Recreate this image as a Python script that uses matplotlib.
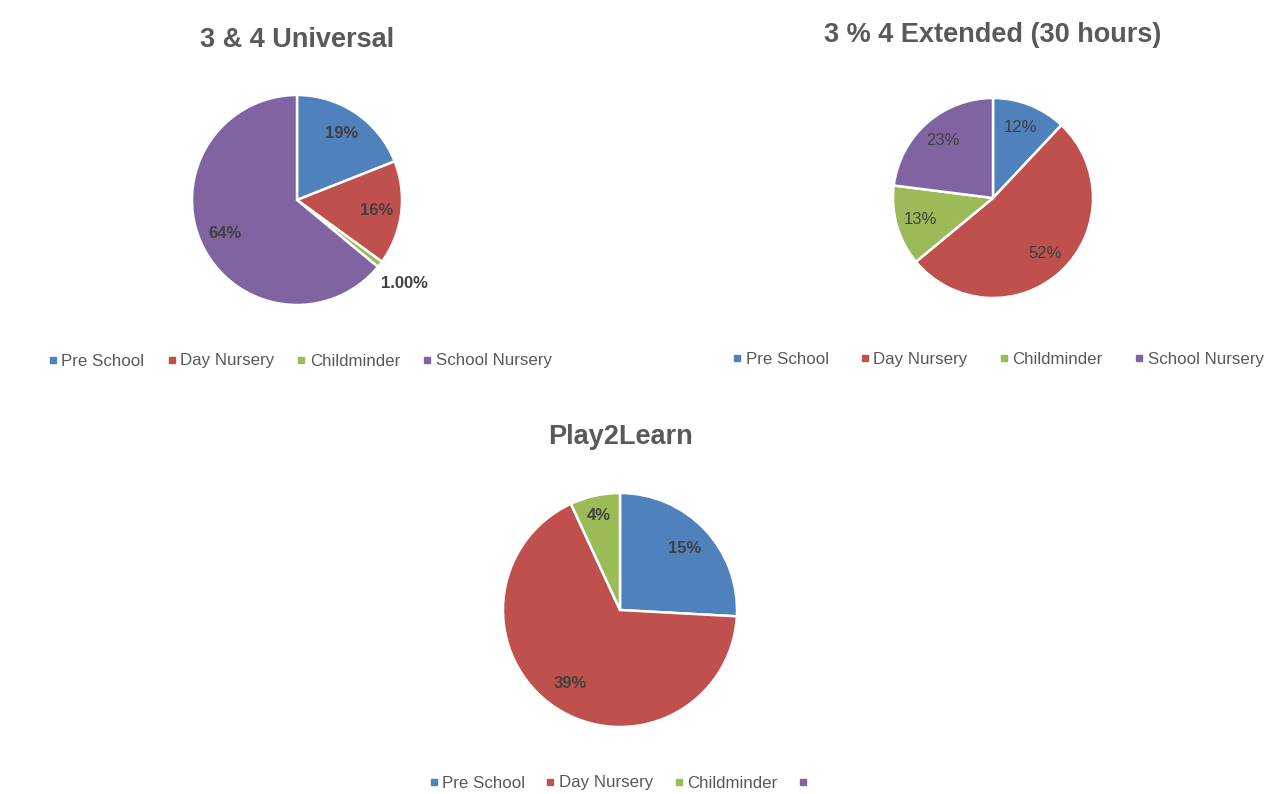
import matplotlib.pyplot as plt
from matplotlib.lines import Line2D
import numpy as np

plt.rcParams["font.family"] = ["Liberation Sans", "DejaVu Sans"]

# Data
categories = ["Pre School", "Day Nursery", "Childminder", "School Nursery"]
colors = ["#4F81BD", "#C0504D", "#9BBB59", "#8064A2"]

universal_values = [19, 16, 1, 64]
universal_labels = ["19%", "16%", "1.00%", "64%"]

extended_values = [12, 52, 13, 23]
extended_labels = ["12%", "52%", "13%", "23%"]

play_values = [15, 39, 4]
play_labels = ["15%", "39%", "4%"]
play_legend = ["Pre School", "Day Nursery", "Childminder", ""]

W, H = 1271, 794
fig = plt.figure(figsize=(W / 100, H / 100), dpi=100)
fig.patch.set_facecolor("white")

text_col = "#595959"


def px_axes(cx, cy, r, span=1.5):
    half = r * span
    return fig.add_axes([(cx - half) / W, (H - cy - half) / H, 2 * half / W, 2 * half / H])


def draw_pie(cx, cy, r, values, labels, title, title_y, legend_names, legend_xy,
             bold=True, label_dist=None, colspace=1.4):
    ax = px_axes(cx, cy, r)
    wedges, _ = ax.pie(values, colors=colors[:len(values)], startangle=90,
                       counterclock=False, radius=1,
                       wedgeprops=dict(edgecolor="white", linewidth=1.8))
    ax.set_xlim(-1.5, 1.5)
    ax.set_ylim(-1.5, 1.5)
    ax.set_aspect("equal")
    ax.axis("off")
    for i, (w, lab) in enumerate(zip(wedges, labels)):
        ang = np.deg2rad((w.theta1 + w.theta2) / 2)
        d = label_dist[i] if label_dist else 0.76
        ax.text(d * np.cos(ang), d * np.sin(ang), lab, ha="center", va="center",
                fontsize=12, color="#404040",
                fontweight="bold" if bold else "normal")
    fig.text(cx / W, 1 - title_y / H, title, ha="center", va="center",
             fontsize=19.5, fontweight="bold", color=text_col)
    handles = [Line2D([], [], marker="s", linestyle="none", markersize=4.5,
                      color=c) for c in colors[:len(legend_names)]]
    fig.legend(handles, legend_names, loc="center",
               bbox_to_anchor=(legend_xy[0] / W, 1 - legend_xy[1] / H),
               ncol=len(legend_names),
               frameon=False, fontsize=12.2, labelcolor=text_col,
               handletextpad=0.1, columnspacing=colspace, handlelength=0.8)


draw_pie(297, 200, 105, universal_values, universal_labels, "3 & 4 Universal", 40,
         categories, (299, 361), bold=True, label_dist=[0.76, 0.76, 1.3, 0.76],
         colspace=1.2)
draw_pie(993, 198, 100, extended_values, extended_labels, "3 % 4 Extended (30 hours)", 35,
         categories, (997, 359), bold=False, colspace=1.75)
draw_pie(620, 610, 117, play_values, play_labels, "Play2Learn", 437,
         play_legend, (619, 783), bold=True, label_dist=[0.76, 0.76, 0.83],
         colspace=1.1)

plt.savefig("out.png", dpi=100, facecolor="white")
